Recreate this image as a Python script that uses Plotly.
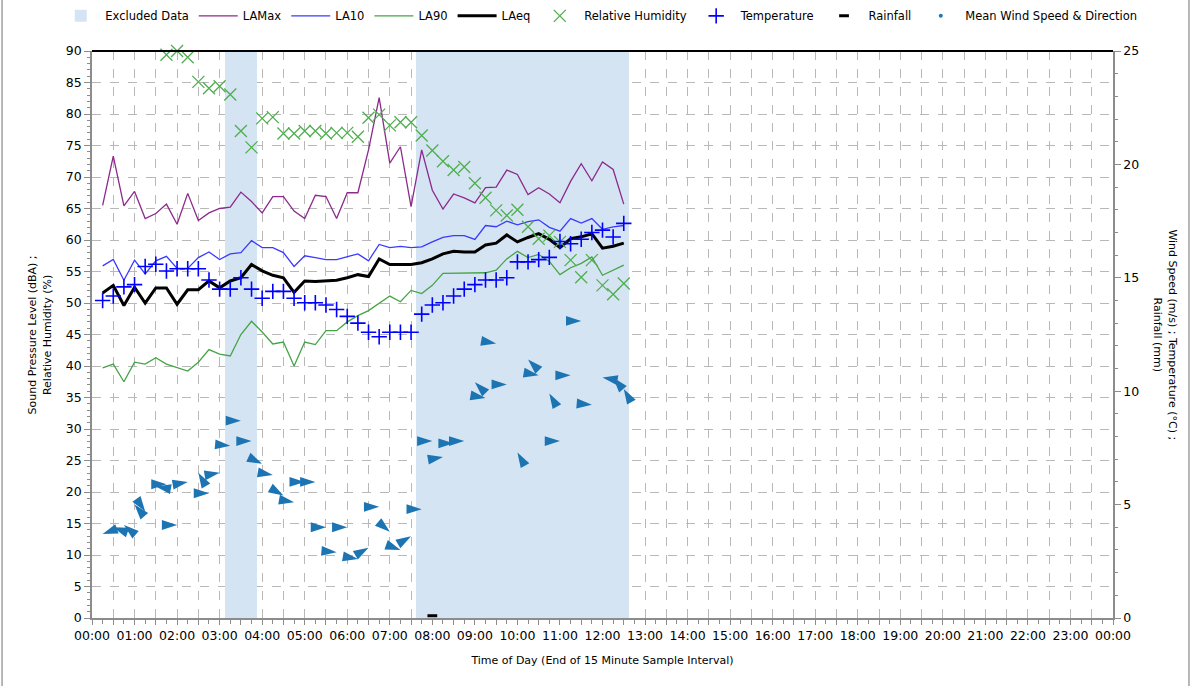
import plotly.graph_objects as go

# ---------------- data ----------------
times = ["00:15", "00:30", "00:45", "01:00", "01:15", "01:30", "01:45", "02:00", "02:15", "02:30",
         "02:45", "03:00", "03:15", "03:30", "03:45", "04:00", "04:15", "04:30", "04:45", "05:00",
         "05:15", "05:30", "05:45", "06:00", "06:15", "06:30", "06:45", "07:00", "07:15", "07:30",
         "07:45", "08:00", "08:15", "08:30", "08:45", "09:00", "09:15", "09:30", "09:45", "10:00",
         "10:15", "10:30", "10:45", "11:00", "11:15", "11:30", "11:45", "12:00", "12:15", "12:30"]

lamax = [65.5, 73.3, 65.4, 67.7, 63.4, 64.2, 65.7, 62.5, 67.4, 63.1,
         64.3, 65.0, 65.2, 67.6, 66.1, 64.3, 66.9, 66.9, 64.6, 63.4,
         67.1, 66.9, 63.4, 67.5, 67.5, 74.3, 82.6, 72.2, 74.8, 65.3,
         74.3, 67.9, 64.9, 67.3, 66.7, 65.9, 68.3, 68.4, 71.1, 70.4,
         67.2, 68.3, 67.3, 65.9, 69.3, 72.1, 69.4, 72.4, 71.2, 65.7]

la10 = [55.9, 56.9, 53.6, 56.8, 54.6, 56.7, 57.4, 55.5, 55.5, 57.2,
        58.1, 56.9, 57.8, 58.0, 59.9, 58.8, 58.8, 58.0, 55.8, 57.5,
        57.2, 56.9, 56.9, 57.4, 57.8, 56.7, 59.3, 58.8, 59.0, 58.8,
        58.9, 59.7, 60.4, 60.7, 60.7, 60.1, 62.3, 62.1, 63.0, 62.4,
        62.9, 63.2, 62.0, 61.4, 63.4, 62.7, 63.4, 61.7, 62.1, 62.3]

la90 = [39.7, 40.3, 37.5, 40.6, 40.3, 41.3, 40.3, 39.7, 39.2, 40.6,
        42.6, 41.9, 41.6, 45.0, 47.1, 45.4, 43.5, 43.8, 40.0, 43.8,
        43.4, 45.6, 45.6, 47.0, 48.0, 48.8, 49.9, 51.1, 50.2, 52.0,
        51.5, 52.8, 54.7, 54.7, 54.7, 54.7, 54.8, 55.2, 57.0, 58.2,
        57.2, 57.7, 56.6, 54.5, 55.6, 56.3, 57.3, 54.4, 55.2, 56.0]

laeq = [51.6, 52.8, 49.6, 52.5, 50.0, 52.4, 52.4, 49.8, 52.1, 52.1,
        53.5, 52.4, 53.5, 54.0, 56.1, 55.1, 54.4, 54.0, 51.7, 53.5,
        53.4, 53.5, 53.6, 54.0, 54.5, 54.2, 57.0, 56.1, 56.1, 56.1,
        56.4, 57.0, 57.8, 58.2, 58.1, 58.1, 59.2, 59.5, 60.8, 59.7,
        60.4, 61.0, 60.1, 58.8, 60.2, 60.5, 61.0, 58.7, 59.0, 59.5]

rel_humidity = [None, None, None, None, None, None, 89.4, 90.0, 89.0, 85.1,
                84.1, 84.4, 83.1, 77.3, 74.7, 79.3, 79.5, 76.9, 76.9, 77.3,
                77.3, 76.9, 77.0, 77.0, 76.4, 79.4, 79.9, 78.2, 78.7, 78.7,
                76.6, 74.2, 72.5, 71.1, 71.6, 69.0, 66.7, 64.7, 63.9, 64.8,
                62.1, 60.2, 60.7, 59.7, 56.8, 54.1, 56.8, 52.8, 51.4, 53.1]

temperature = [14.0, 14.2, 14.6, 14.7, 15.5, 15.6, 15.3, 15.4, 15.4, 15.4,
               14.9, 14.5, 14.5, 15.0, 14.5, 14.1, 14.4, 14.4, 14.1, 13.9,
               13.9, 13.8, 13.6, 13.3, 13.0, 12.6, 12.4, 12.6, 12.6, 12.6,
               13.4, 13.8, 13.9, 14.2, 14.5, 14.7, 14.9, 14.9, 15.0, 15.7,
               15.7, 15.8, 15.9, 16.6, 16.5, 16.7, 17.0, 17.1, 16.8, 17.4]

wind_speed = [3.7, 4.0, 4.1, 5.0, 4.7, 5.8, 5.9, 4.1, 6.0, 6.4,
              5.5, 6.4, 7.6, 8.7, 7.8, 6.8, 6.3, 5.4, 5.1, 6.0,
              6.0, 4.0, 2.9, 4.0, 2.6, 3.1, 4.9, 3.8, 3.0, 3.6,
              4.8, 7.8, 7.1, 7.7, 7.8, 10.4, 9.7, 12.1, 10.3, 7.3,
              11.4, 10.7, 9.9, 7.8, 10.7, 13.1, 9.4, 10.6, 10.6, 10.1]

# direction the arrow points, degrees clockwise from north
wind_dir = [250, 290, 310, 320, 145, 280, 90, 90, 80, 330,
            90, 80, 95, 90, 90, 115, 100, 120, 100, 90,
            90, 90, 95, 90, 100, 60, 90, 130, 110, 60,
            90, 90, 80, 90, 90, 315, 100, 100, 90, 330,
            315, 100, 330, 90, 90, 90, 95, 280, 320, 330]

excluded_times = ["03:15", "03:30", "03:45",
                  "07:45", "08:00", "08:15", "08:30", "08:45", "09:00", "09:15", "09:30",
                  "09:45", "10:00", "10:15", "10:30", "10:45", "11:00", "11:15", "11:30",
                  "11:45", "12:00", "12:15", "12:30"]
excluded_top = [90] * len(excluded_times)

rain_times = ["08:00"]
rain_mm = [0.1]

hour_labels = ["00:00", "01:00", "02:00", "03:00", "04:00", "05:00", "06:00", "07:00",
               "08:00", "09:00", "10:00", "11:00", "12:00", "13:00", "14:00", "15:00",
               "16:00", "17:00", "18:00", "19:00", "20:00", "21:00", "22:00", "23:00", "00:00"]


def to_hours(t):
    h, m = t.split(":")
    return int(h) + int(m) / 60.0


x = [to_hours(t) for t in times]
x_ex = [to_hours(t) for t in excluded_times]
x_rain = [to_hours(t) for t in rain_times]

tickvals = []
ticktext = []
for i, lab in enumerate(hour_labels):
    tickvals.append(i)
    ticktext.append(lab)
    if i < len(hour_labels) - 1:
        tickvals.append(i + 0.5)
        ticktext.append("")

FONT = "DejaVu Sans"
GRID = "#b8b8b8"
AX = "#8c8c8c"

fig = go.Figure()

fig.add_trace(go.Bar(x=x_ex, y=excluded_top, width=0.25, name="Excluded Data",
                     marker=dict(color="#d5e4f3", line=dict(width=0)), yaxis="y"))
fig.add_trace(go.Scatter(x=x, y=lamax, name="LAMax", mode="lines",
                         line=dict(color="#8b2a8b", width=1.3)))
fig.add_trace(go.Scatter(x=x, y=la10, name="LA10", mode="lines",
                         line=dict(color="#3a3aff", width=1.3)))
fig.add_trace(go.Scatter(x=x, y=la90, name="LA90", mode="lines",
                         line=dict(color="#45a445", width=1.3)))
fig.add_trace(go.Scatter(x=x, y=laeq, name="LAeq", mode="lines",
                         line=dict(color="#000000", width=3)))
fig.add_trace(go.Scatter(x=x, y=rel_humidity, name="Relative Humidity", mode="markers",
                         cliponaxis=False,
                         marker=dict(symbol="x-thin", size=12, color="#4fae4f",
                                     line=dict(color="#4fae4f", width=1.3))))
fig.add_trace(go.Scatter(x=x, y=temperature, name="Temperature", mode="markers", yaxis="y2",
                         marker=dict(symbol="cross-thin", size=11, color="#0000ff",
                                     line=dict(color="#0000ff", width=1.6))))
fig.add_trace(go.Scatter(x=x_rain, y=rain_mm, name="Rainfall", mode="markers", yaxis="y2",
                         cliponaxis=False,
                         marker=dict(symbol="line-ew", size=7, color="#000000",
                                     line=dict(color="#000000", width=3))))
fig.add_trace(go.Scatter(x=x, y=wind_speed, mode="markers", yaxis="y2", showlegend=False,
                         name="Mean Wind Speed & Direction",
                         marker=dict(symbol="arrow", size=16, angle=wind_dir,
                                     color="#1c74b3", line=dict(width=0))))
fig.add_trace(go.Scatter(x=[None], y=[None], mode="markers", yaxis="y2",
                         name="Mean Wind Speed & Direction",
                         marker=dict(symbol="circle", size=4, color="#1f77b4")))

fig.update_layout(
    width=1192, height=686,
    margin=dict(l=92, r=79, t=51, b=68, autoexpand=False),
    paper_bgcolor="white", plot_bgcolor="white",
    font=dict(family=FONT, size=12, color="#000000"),
    bargap=0,
    showlegend=True,
    legend=dict(orientation="h", x=-0.035, xanchor="left",
                y=1.062, yanchor="middle",
                font=dict(size=11.5), bgcolor="rgba(0,0,0,0)", traceorder="normal",
                itemwidth=39, tracegroupgap=0),
    xaxis=dict(range=[0, 24], tickmode="array", tickvals=tickvals, ticktext=ticktext,
               showgrid=True, gridcolor=GRID, griddash="dash", gridwidth=1,
               showline=True, linecolor=AX, linewidth=1.5,
               ticks="outside", ticklen=5, tickcolor=AX,
               minor=dict(dtick=0.25, ticks="outside", ticklen=4, tickcolor=AX, showgrid=False),
               zeroline=False,
               title=dict(text="Time of Day (End of 15 Minute Sample Interval)",
                          font=dict(size=11), standoff=15),
               tickfont=dict(size=12.5)),
    yaxis=dict(range=[0, 90], dtick=5, showgrid=True, gridcolor=GRID, griddash="dash",
               showline=True, linecolor=AX, linewidth=1.5, zeroline=False,
               ticks="outside", ticklen=6, tickcolor=AX,
               minor=dict(dtick=1, ticks="outside", ticklen=3, tickcolor=AX, showgrid=False),
               tickfont=dict(size=12.5)),
    yaxis2=dict(range=[0, 25], dtick=5, overlaying="y", side="right", showgrid=False,
                showline=True, linecolor=AX, linewidth=1.5, zeroline=False,
                ticks="outside", ticklen=6, tickcolor=AX,
                minor=dict(dtick=1, ticks="outside", ticklen=3, tickcolor=AX),
                tickfont=dict(size=12.5)),
    shapes=[
        dict(type="line", xref="paper", yref="paper", x0=0, x1=1, y0=1, y1=1,
             line=dict(color="#000000", width=2)),
        dict(type="line", xref="paper", yref="paper", x0=-0.0881, x1=-0.0881, y0=-0.125, y1=1.1,
             line=dict(color="#a0a0a0", width=1.5)),
        dict(type="line", xref="paper", yref="paper", x0=1.0744, x1=1.0744, y0=-0.125, y1=1.1,
             line=dict(color="#a0a0a0", width=1.5)),
    ],
    annotations=[
        dict(text="Sound Pressure Level (dBA) ;<br>Relative Humidity (%)", textangle=-90,
             xref="paper", yref="paper", x=-0.051, y=0.5, xanchor="center", yanchor="middle",
             showarrow=False, font=dict(size=11)),
        dict(text="Wind Speed (m/s) ; Temperature (°C) ;<br>Rainfall (mm)", textangle=90,
             xref="paper", yref="paper", x=1.051, y=0.5, xanchor="center", yanchor="middle",
             showarrow=False, font=dict(size=11)),
    ],
)

fig.write_html("out.html", config={"displayModeBar": False},
               post_script="document.body.style.margin='0px';")
